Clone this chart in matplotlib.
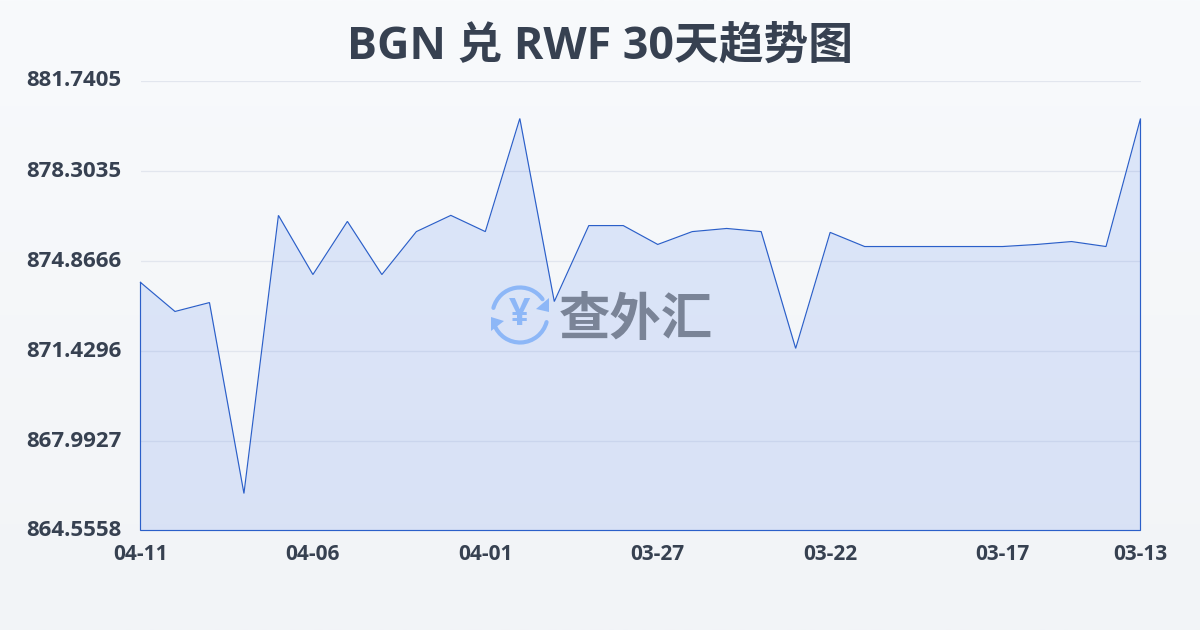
import matplotlib
matplotlib.use('Agg')
import matplotlib.pyplot as plt
import numpy as np
from matplotlib.patches import Arc, Polygon
from matplotlib.transforms import ScaledTranslation

# exchange rate, newest date first, as on the chart
dates = ['04-11', '04-10', '04-09', '04-08', '04-07', '04-06', '04-05', '04-04', '04-03', '04-02',
         '04-01', '03-31', '03-30', '03-29', '03-28', '03-27', '03-26', '03-25', '03-24', '03-23',
         '03-22', '03-21', '03-20', '03-19', '03-18', '03-17', '03-16', '03-15', '03-14', '03-13']
rates = [874.03, 872.92, 873.26, 865.97, 876.59, 874.33, 876.36, 874.33, 875.97, 876.59,
         875.97, 880.29, 873.30, 876.20, 876.20, 875.48, 875.97, 876.09, 875.97, 871.51,
         875.94, 875.40, 875.40, 875.40, 875.40, 875.40, 875.48, 875.59, 875.40, 880.29]
y_ticks = [864.5558, 867.9927, 871.4296, 874.8666, 878.3035, 881.7405]
x_tick_idx = [0, 5, 10, 15, 20, 25, 29]

TEXT = '#374151'
LINE = '#2b5fc9'
W, H = 1200, 630
LATIN = ['Open Sans', 'Noto Sans CJK SC', 'DejaVu Sans']

plt.rcParams['font.family'] = ['Noto Sans CJK SC', 'DejaVu Sans']

fig = plt.figure(figsize=(12, 6.3), dpi=100)

# page background, light vertical gradient
bg = fig.add_axes([0, 0, 1, 1], zorder=0)
grad = np.linspace(0, 1, 256).reshape(-1, 1)
top = np.array([0xf8, 0xfa, 0xfc]) / 255
bottom = np.array([0xf2, 0xf4, 0xf7]) / 255
bg.imshow((top + (bottom - top) * grad[:, :, None]), aspect='auto', extent=[0, 1, 0, 1])
bg.axis('off')

ax = fig.add_axes([140.5 / W, 99.5 / H, 1000 / W, 450 / H], zorder=1)
ax.patch.set_alpha(0)
x = np.arange(len(rates))
ax.fill_between(x, rates, y_ticks[0], color='#2563eb', alpha=0.125, linewidth=0, zorder=2)
ax.plot(np.r_[x, x[-1], 0, 0], np.r_[rates, y_ticks[0], y_ticks[0], rates[0]],
        color=LINE, linewidth=0.85, zorder=4, solid_joinstyle='miter', clip_on=False)
ax.set_xlim(0, len(rates) - 1)
ax.set_ylim(y_ticks[0], y_ticks[-1])
ax.set_yticks(y_ticks, [f'{v:.4f}' for v in y_ticks])
ax.set_xticks(x_tick_idx, [dates[i] for i in x_tick_idx])
ax.grid(True, axis='y', color='#e2e6ee', linewidth=0.9, zorder=1)
ax.set_axisbelow(True)
for s in ax.spines.values():
    s.set_visible(False)
ax.tick_params(axis='y', length=0, pad=13.5, labelsize=16, labelcolor=TEXT)
ax.tick_params(axis='x', length=0, pad=10, labelsize=15, labelcolor=TEXT)
for lab in ax.get_yticklabels() + ax.get_xticklabels():
    lab.set_fontfamily(LATIN)
    lab.set_fontweight('bold')
# y labels sit a little above their gridlines
shift_up = ScaledTranslation(0, 2 / 100, fig.dpi_scale_trans)
for lab in ax.get_yticklabels():
    lab.set_transform(lab.get_transform() + shift_up)

fig.text(0.5, 1 - 47.5 / H, 'BGN 兑 RWF 30天趋势图', ha='center', va='center',
         fontsize=32.2, fontweight='bold', color=TEXT, family=LATIN)

# watermark logo, pixel coordinates
wm = fig.add_axes([0, 0, 1, 1], zorder=3)
wm.set_xlim(0, W)
wm.set_ylim(H, 0)
wm.axis('off')
BLUE = '#8db7f7'
wm.add_patch(Arc((520, 315), 55, 55, theta1=195, theta2=325, color=BLUE, linewidth=3, capstyle='round'))
wm.add_patch(Arc((520, 315), 55, 55, theta1=15, theta2=160, color=BLUE, linewidth=3, capstyle='round'))
wm.add_patch(Polygon([(549, 298), (549, 312), (536, 309)], closed=True, color=BLUE, linewidth=0))
wm.add_patch(Polygon([(491, 317), (491, 331), (504, 321)], closed=True, color=BLUE, linewidth=0))
wm.text(520, 315, '¥', ha='center', va='center', fontsize=27, fontweight='bold', color=BLUE,
        family=LATIN)
wm.text(636, 319, '查外汇', ha='center', va='center', fontsize=37, fontweight='bold', color='#7a8497')

fig.savefig('out.png', dpi=100)
